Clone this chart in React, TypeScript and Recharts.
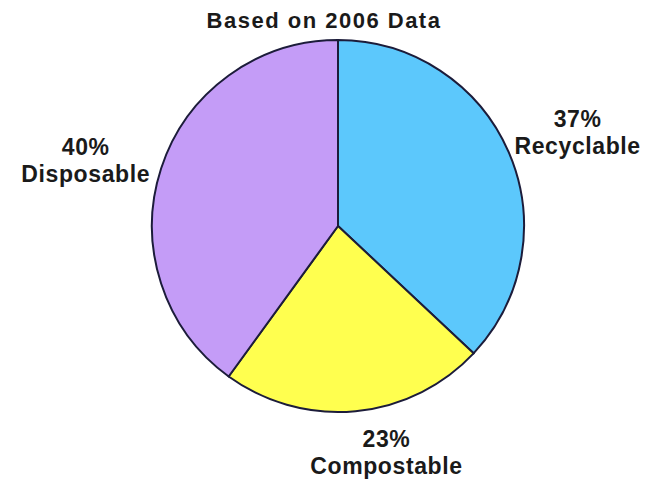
import { Cell, Pie, PieChart } from "recharts";

const categories = ["Recyclable", "Compostable", "Disposable"];
const shares = [37, 23, 40];
const colors = ["#5cc8fc", "#ffff4f", "#c49cf7"];
const title = "Based on 2006 Data";

const data = categories.map((name, i) => ({ name, value: shares[i] }));

const RADIAN = Math.PI / 180;
const FONT = "'Liberation Sans', Arial, Helvetica, sans-serif";

// hand nudges so each label block sits where the original put it
const nudge: Record<string, [number, number]> = {
  Recyclable: [1, 9],
  Compostable: [24, -33],
  Disposable: [-5, 14],
};

function renderLabel(props: any) {
  const { cx, cy, midAngle, outerRadius, percent, name } = props;
  const r = outerRadius + 74;
  const [dx, dy] = nudge[name] || [0, 0];
  const x = cx + r * Math.cos(-midAngle * RADIAN) + dx;
  const y = cy + r * Math.sin(-midAngle * RADIAN) + dy;
  return (
    <text
      x={x}
      y={y}
      textAnchor="middle"
      fill="#1a1a1a"
      fontFamily={FONT}
      fontWeight="bold"
      fontSize={23}
      letterSpacing={0.6}
    >
      <tspan x={x} y={y - 5}>
        {Math.round(percent * 100)}%
      </tspan>
      <tspan x={x} y={y + 22}>
        {name}
      </tspan>
    </text>
  );
}

export default function App() {
  return (
    <div style={{ position: "absolute", left: 0, top: 0, width: 645, height: 479, background: "#fff" }}>
      <PieChart width={645} height={479}>
        <Pie
          data={data}
          dataKey="value"
          nameKey="name"
          cx={333}
          cy={221}
          outerRadius={186}
          startAngle={90}
          endAngle={-270}
          stroke="#1c1c3a"
          strokeWidth={2}
          label={renderLabel}
          labelLine={false}
          isAnimationActive={false}
        >
          {data.map((d, i) => (
            <Cell key={d.name} fill={colors[i]} />
          ))}
        </Pie>
      </PieChart>
      <svg width={645} height={40} style={{ position: "absolute", left: 0, top: 0 }}>
        <text
          x={324}
          y={28}
          textAnchor="middle"
          fill="#1a1a1a"
          fontFamily={FONT}
          fontWeight="bold"
          fontSize={22}
          letterSpacing={1.5}
        >
          {title}
        </text>
      </svg>
    </div>
  );
}
